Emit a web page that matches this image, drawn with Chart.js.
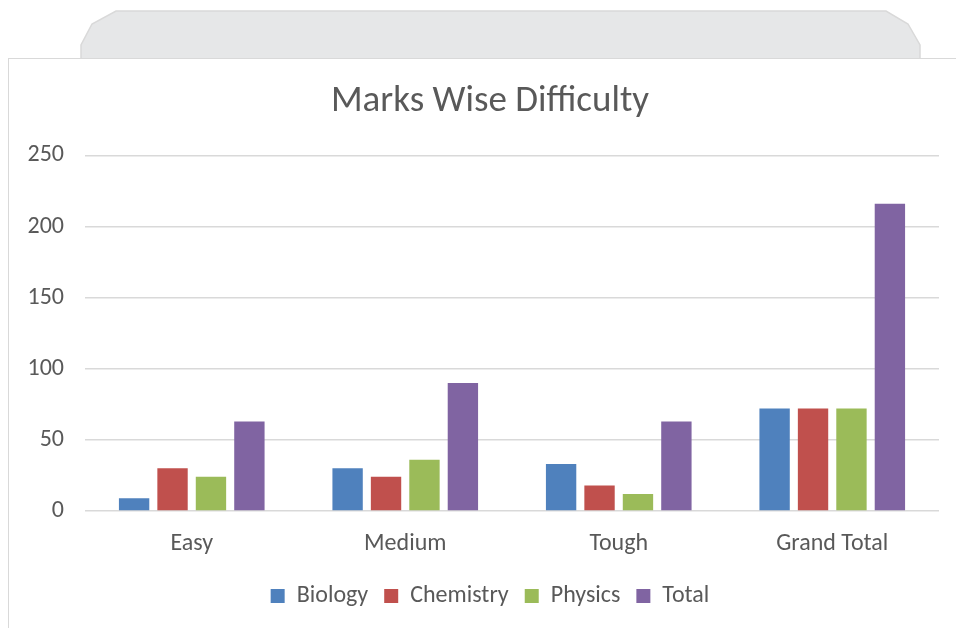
<!DOCTYPE html>
<html>
<head>
<meta charset="utf-8">
<script src="https://cdn.jsdelivr.net/npm/chart.js@4"></script>
<style>
  html, body { margin: 0; padding: 0; background: #fff; }
  body { width: 956px; height: 628px; position: relative; overflow: hidden; }
  #tab { position: absolute; left: 0; top: 0; }
  #frame {
    position: absolute; left: 8px; top: 58px; width: 980px; height: 600px;
    border: 1.5px solid #d9d9d9; background: #fff; box-sizing: border-box;
  }
  #wrap { position: absolute; left: 9px; top: 59px; width: 962px; height: 569px; }
</style>
</head>
<body>
<svg id="tab" width="956" height="60">
  <polygon points="81,59 81,45 92,24 116,11 886,11 908,24 920,45 920,59"
           fill="#e6e7e8" stroke="#d9d9d9" stroke-width="1.5"/>
</svg>
<div id="frame"></div>
<div id="wrap"><canvas id="chart"></canvas></div>
<script>
  // chart data
  const categories = ['Easy', 'Medium', 'Tough', 'Grand Total'];
  const biology = [9, 30, 33, 72];
  const chemistry = [30, 24, 18, 72];
  const physics = [24, 36, 12, 72];
  const total = [63, 90, 63, 216];
  const yTicks = [0, 50, 100, 150, 200, 250];

  const textColor = '#595959';
  const gridColor = '#d9d9d9';
  const fontFamily = "Carlito, 'Open Sans', sans-serif";

  function series(label, data, color) {
    return {
      label: label,
      data: data,
      backgroundColor: color,
      borderWidth: 0,
      categoryPercentage: 0.72,
      barPercentage: 0.79
    };
  }

  new Chart(document.getElementById('chart'), {
    type: 'bar',
    data: {
      labels: categories,
      datasets: [
        series('Biology', biology, '#4f81bd'),
        series('Chemistry', chemistry, '#c0504d'),
        series('Physics', physics, '#9bbb59'),
        series('Total', total, '#8064a2')
      ]
    },
    options: {
      responsive: true,
      maintainAspectRatio: false,
      animation: false,
      layout: { padding: { left: 0, right: 0, top: 0, bottom: 10 } },
      plugins: {
        title: {
          display: true,
          text: 'Marks Wise Difficulty',
          color: textColor,
          font: { family: fontFamily, size: 37, weight: 'normal' },
          padding: { top: 21, bottom: 31 }
        },
        legend: {
          position: 'bottom',
          labels: {
            color: textColor,
            font: { family: fontFamily, size: 24 },
            boxWidth: 14,
            boxHeight: 14,
            padding: 16
          }
        },
        tooltip: { enabled: false }
      },
      scales: {
        x: {
          afterFit: (axis) => { axis.height = 57; },
          grid: { display: false, drawTicks: false },
          border: { display: false },
          ticks: { color: textColor, font: { family: fontFamily, size: 24 }, padding: 19 }
        },
        y: {
          min: 0,
          max: yTicks[yTicks.length - 1],
          afterFit: (axis) => { axis.width = 76; },
          afterBuildTicks: (axis) => { axis.ticks = yTicks.map(v => ({ value: v })); },
          grid: { color: gridColor, lineWidth: 1.5, drawTicks: false },
          border: { display: false },
          ticks: { color: textColor, font: { family: fontFamily, size: 24 }, padding: 21 }
        },
        // empty right-hand margin so title and legend centre on the whole frame
        spacer: {
          position: 'right',
          afterFit: (axis) => { axis.width = 32; },
          grid: { display: false, drawTicks: false },
          border: { display: false },
          ticks: { display: false }
        }
      }
    }
  });
</script>
</body>
</html>
